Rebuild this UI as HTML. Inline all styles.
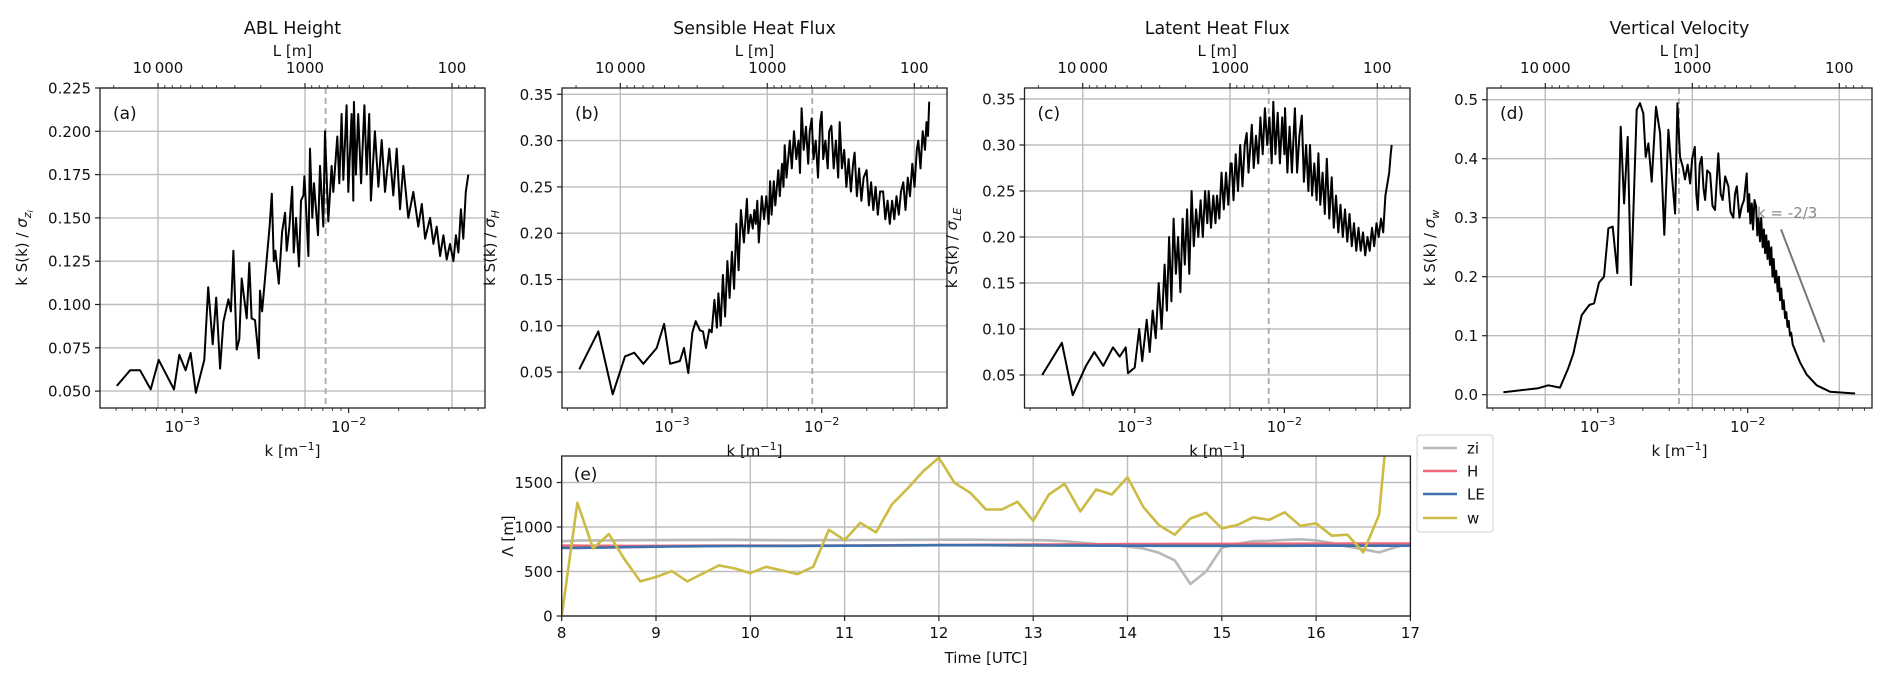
<!DOCTYPE html>
<html><head><meta charset="utf-8"><title>Spectra</title>
<style>
html,body{margin:0;padding:0;background:#fff;}
svg{display:block;font-family:"DejaVu Sans","Liberation Sans",sans-serif;}
</style></head>
<body>
<svg id="chart" xmlns="http://www.w3.org/2000/svg" width="1892" height="683" viewBox="0 0 1892 683"></svg>
<script>
// ---------- DATA ----------
const aData=[[-3.394,.053],[-3.314,.062],[-3.254,.062],[-3.19,.051],[-3.142,.068],[-3.05,.051],[-3.018,.071],[-2.98,.062],[-2.95,.072],[-2.918,.049],[-2.868,.068],[-2.844,.110],[-2.817,.077],[-2.796,.104],[-2.773,.063],[-2.753,.090],[-2.723,.103],[-2.708,.096],[-2.693,.131],[-2.673,.074],[-2.657,.080],[-2.643,.115],[-2.613,.092],[-2.597,.124],[-2.583,.092],[-2.563,.091],[-2.54,.069],[-2.533,.108],[-2.52,.096],[-2.475,.145],[-2.462,.164],[-2.45,.125],[-2.44,.131],[-2.42,.112],[-2.40,.142],[-2.382,.153],[-2.372,.131],[-2.356,.145],[-2.339,.168],[-2.33,.130],[-2.316,.150],[-2.298,.122],[-2.286,.160],[-2.272,.163],[-2.266,.174],[-2.258,.160],[-2.242,.128],[-2.232,.190],[-2.218,.150],[-2.208,.170],[-2.184,.140],[-2.172,.180],[-2.152,.145],[-2.142,.200],[-2.122,.148],[-2.102,.180],[-2.092,.165],[-2.068,.197],[-2.056,.170],[-2.042,.210],[-2.032,.172],[-2.012,.215],[-2.002,.165],[-1.982,.210],[-1.972,.160],[-1.968,.217],[-1.956,.175],[-1.942,.210],[-1.925,.170],[-1.905,.215],[-1.891,.175],[-1.876,.210],[-1.866,.160],[-1.842,.200],[-1.821,.168],[-1.801,.195],[-1.781,.165],[-1.755,.190],[-1.731,.163],[-1.711,.190],[-1.691,.155],[-1.671,.180],[-1.641,.150],[-1.611,.165],[-1.581,.145],[-1.56,.158],[-1.54,.138],[-1.51,.150],[-1.49,.135],[-1.47,.145],[-1.45,.128],[-1.43,.140],[-1.41,.126],[-1.39,.135],[-1.37,.125],[-1.355,.140],[-1.34,.130],[-1.325,.155],[-1.31,.138],[-1.295,.165],[-1.28,.175]];
const bData=[[-3.619,.053],[-3.492,.094],[-3.396,.026],[-3.314,.067],[-3.252,.071],[-3.192,.059],[-3.102,.076],[-3.053,.102],[-3.013,.059],[-2.947,.062],[-2.92,.076],[-2.891,.049],[-2.864,.093],[-2.842,.105],[-2.813,.095],[-2.793,.094],[-2.773,.076],[-2.751,.096],[-2.735,.093],[-2.717,.128],[-2.70,.098],[-2.69,.135],[-2.675,.10],[-2.66,.155],[-2.645,.11],[-2.63,.17],[-2.615,.13],[-2.60,.18],[-2.585,.14],[-2.57,.21],[-2.555,.16],[-2.54,.225],[-2.52,.19],[-2.50,.237],[-2.49,.20],[-2.475,.22],[-2.46,.205],[-2.45,.225],[-2.44,.21],[-2.43,.235],[-2.42,.19],[-2.40,.24],[-2.385,.215],[-2.37,.24],[-2.355,.21],[-2.345,.256],[-2.335,.22],[-2.32,.256],[-2.31,.23],[-2.29,.268],[-2.28,.24],[-2.265,.275],[-2.255,.25],[-2.247,.295],[-2.235,.26],[-2.213,.30],[-2.2,.27],[-2.185,.31],[-2.17,.28],[-2.155,.30],[-2.145,.265],[-2.134,.335],[-2.12,.29],[-2.105,.315],[-2.09,.275],[-2.08,.31],[-2.067,.324],[-2.055,.28],[-2.04,.30],[-2.025,.26],[-2.01,.32],[-2.0,.331],[-1.99,.28],[-1.975,.30],[-1.96,.27],[-1.95,.31],[-1.935,.316],[-1.92,.27],[-1.905,.30],[-1.89,.26],[-1.88,.32],[-1.865,.27],[-1.85,.29],[-1.835,.25],[-1.82,.28],[-1.805,.245],[-1.79,.275],[-1.78,.287],[-1.765,.24],[-1.75,.27],[-1.735,.235],[-1.72,.26],[-1.70,.268],[-1.685,.23],[-1.67,.255],[-1.655,.225],[-1.64,.25],[-1.625,.22],[-1.61,.245],[-1.59,.245],[-1.575,.215],[-1.56,.235],[-1.545,.21],[-1.53,.235],[-1.515,.215],[-1.50,.24],[-1.485,.22],[-1.47,.245],[-1.455,.255],[-1.44,.225],[-1.425,.26],[-1.41,.24],[-1.395,.275],[-1.38,.25],[-1.365,.29],[-1.355,.30],[-1.34,.27],[-1.325,.31],[-1.31,.29],[-1.30,.32],[-1.29,.305],[-1.282,.342]];
const cData=[[-3.618,.05],[-3.486,.085],[-3.414,.028],[-3.325,.06],[-3.27,.075],[-3.21,.06],[-3.145,.08],[-3.10,.07],[-3.06,.08],[-3.045,.052],[-3.0,.058],[-2.97,.10],[-2.95,.065],[-2.92,.11],[-2.90,.075],[-2.88,.12],[-2.86,.09],[-2.84,.15],[-2.82,.10],[-2.80,.17],[-2.785,.12],[-2.77,.20],[-2.755,.13],[-2.74,.22],[-2.725,.16],[-2.71,.20],[-2.695,.14],[-2.68,.22],[-2.665,.17],[-2.65,.23],[-2.635,.16],[-2.62,.25],[-2.605,.19],[-2.59,.23],[-2.575,.20],[-2.56,.24],[-2.545,.20],[-2.53,.25],[-2.515,.215],[-2.506,.25],[-2.49,.21],[-2.475,.245],[-2.46,.215],[-2.45,.245],[-2.435,.22],[-2.42,.27],[-2.405,.23],[-2.39,.27],[-2.375,.235],[-2.36,.28],[-2.352,.28],[-2.34,.24],[-2.325,.29],[-2.31,.25],[-2.295,.30],[-2.28,.255],[-2.265,.30],[-2.252,.313],[-2.24,.27],[-2.218,.322],[-2.205,.275],[-2.19,.31],[-2.175,.28],[-2.16,.33],[-2.145,.29],[-2.13,.34],[-2.115,.30],[-2.10,.33],[-2.085,.28],[-2.074,.347],[-2.06,.29],[-2.045,.335],[-2.03,.28],[-2.015,.33],[-2.0,.29],[-1.996,.34],[-1.98,.27],[-1.965,.32],[-1.95,.27],[-1.93,.34],[-1.915,.27],[-1.9,.31],[-1.884,.332],[-1.87,.26],[-1.855,.30],[-1.84,.25],[-1.829,.30],[-1.815,.245],[-1.8,.28],[-1.785,.24],[-1.773,.291],[-1.76,.235],[-1.745,.27],[-1.73,.225],[-1.717,.285],[-1.70,.22],[-1.684,.265],[-1.67,.21],[-1.655,.245],[-1.64,.205],[-1.625,.235],[-1.61,.20],[-1.595,.23],[-1.58,.195],[-1.565,.225],[-1.55,.19],[-1.535,.215],[-1.52,.185],[-1.505,.21],[-1.49,.185],[-1.475,.205],[-1.46,.18],[-1.445,.20],[-1.43,.185],[-1.415,.21],[-1.40,.19],[-1.385,.215],[-1.37,.20],[-1.355,.22],[-1.34,.205],[-1.325,.245],[-1.31,.26],[-1.30,.27],[-1.29,.29],[-1.283,.30]];
const dData=[[-3.629,.004],[-3.396,.011],[-3.329,.016],[-3.251,.012],[-3.196,.045],[-3.162,.070],[-3.107,.135],[-3.056,.152],[-3.024,.155],[-2.991,.190],[-2.958,.200],[-2.929,.282],[-2.90,.285],[-2.869,.206],[-2.847,.454],[-2.824,.324],[-2.80,.437],[-2.778,.186],[-2.74,.483],[-2.718,.494],[-2.696,.477],[-2.68,.403],[-2.662,.426],[-2.64,.361],[-2.611,.488],[-2.584,.443],[-2.556,.271],[-2.529,.449],[-2.507,.375],[-2.484,.307],[-2.469,.494],[-2.451,.403],[-2.433,.386],[-2.418,.365],[-2.40,.39],[-2.384,.358],[-2.37,.40],[-2.353,.420],[-2.343,.34],[-2.333,.313],[-2.32,.39],[-2.307,.403],[-2.295,.35],[-2.284,.33],[-2.27,.38],[-2.251,.375],[-2.235,.32],[-2.218,.313],[-2.205,.37],[-2.196,.409],[-2.18,.34],[-2.167,.33],[-2.15,.37],[-2.129,.353],[-2.115,.31],[-2.096,.30],[-2.085,.34],[-2.073,.353],[-2.055,.30],[-2.04,.319],[-2.025,.33],[-2.007,.375],[-1.998,.31],[-1.99,.34],[-1.982,.29],[-1.973,.324],[-1.965,.28],[-1.955,.33],[-1.944,.319],[-1.936,.27],[-1.928,.30],[-1.918,.26],[-1.91,.30],[-1.90,.25],[-1.892,.28],[-1.884,.24],[-1.876,.27],[-1.868,.23],[-1.86,.26],[-1.851,.22],[-1.843,.25],[-1.835,.20],[-1.827,.23],[-1.818,.19],[-1.81,.21],[-1.80,.175],[-1.792,.20],[-1.784,.16],[-1.776,.18],[-1.768,.145],[-1.76,.16],[-1.751,.13],[-1.743,.14],[-1.735,.115],[-1.727,.125],[-1.718,.10],[-1.71,.105],[-1.70,.085],[-1.684,.075],[-1.651,.055],[-1.607,.034],[-1.54,.016],[-1.451,.005],[-1.284,.002]];

const aYTicks=[0.05,0.075,0.1,0.125,0.15,0.175,0.2,0.225];
const bYTicks=[0.05,0.1,0.15,0.2,0.25,0.3,0.35];
const cYTicks=[0.05,0.1,0.15,0.2,0.25,0.3,0.35];
const dYTicks=[0,0.1,0.2,0.3,0.4,0.5];
const topMajorL=[10000,1000,100];
const topMajorLabels=["10\u2009000","1000","100"];
const dashLogK=[-2.138,-2.063,-2.105,-2.458];

const eTime=[8,8.167,8.333,8.5,8.667,8.833,9,9.167,9.333,9.5,9.667,9.833,10,10.167,10.333,10.5,10.667,10.833,11,11.167,11.333,11.5,11.667,11.833,12,12.167,12.333,12.5,12.667,12.833,13,13.167,13.333,13.5,13.667,13.833,14,14.167,14.333,14.5,14.667,14.833,15,15.167,15.333,15.5,15.667,15.833,16,16.167,16.333,16.5,16.667,16.833,17];
const eZi=[840,848,850,850,852,852,853,853,855,855,856,856,855,853,852,852,852,853,853,854,855,855,856,856,857,857,857,856,855,855,853,850,840,825,810,800,780,760,710,625,360,500,765,810,840,845,855,862,850,820,780,750,715,770,817];
const eH=[790,790,789,789,788,788,788,789,789,790,790,790,790,790,790,790,791,791,792,792,793,794,795,796,797,798,799,800,800,801,802,803,804,805,806,807,808,809,809,810,810,810,810,811,811,811,812,812,812,812,813,813,814,814,815];
const eLE=[765,765,767,770,773,776,779,781,783,784,785,786,787,787,788,788,789,789,790,790,791,792,793,794,795,795,795,795,794,793,792,792,791,791,790,790,790,790,789,789,789,789,789,789,789,789,789,790,790,790,790,790,790,790,790];
const eW=[0,1272,759,920,636,389,438,505,389,479,568,535,482,553,512,471,553,969,853,1047,939,1253,1432,1627,1777,1496,1384,1197,1197,1283,1070,1365,1485,1174,1421,1365,1560,1227,1021,913,1096,1159,985,1023,1109,1080,1165,1012,1042,902,913,715,1135,3000];
const eXTicks=[8,9,10,11,12,13,14,15,16,17];
const eYTicks=[0,500,1000,1500];
const legendNames=["zi","H","LE","w"];

// ---------- HELPERS ----------
const NS="http://www.w3.org/2000/svg";
const svg=document.getElementById("chart");
function mk(tag,parent){const e=document.createElementNS(NS,tag);parent.appendChild(e);return e;}
function at(e,o){for(const k in o)e.setAttribute(k,o[k]);return e;}
function txt(parent,x,y,s,size,anchor,fill){const t=mk("text",parent);at(t,{x:x,y:y,"font-size":size,"text-anchor":anchor||"middle",fill:fill||"#111"});t.textContent=s;return t;}
const GRID="#bdbdbd";

const panels=[
 {key:"a",title:"ABL Height",L:100,R:485,T:88,B:408,kx0:182.3,kdec:166.3,vtop:0.225,vy0:88,vstep:0.025,vpx:43.3,Lx:305,Ldec:147,ticks:aYTicks,dec:3,data:aData,ylx:27,sub:"zi"},
 {key:"b",title:"Sensible Heat Flux",L:562,R:947,T:88,B:408,kx0:672,kdec:149.7,vtop:0.35,vy0:94.3,vstep:0.05,vpx:46.3,Lx:767.3,Ldec:147,ticks:bYTicks,dec:2,data:bData,ylx:495,sub:"H"},
 {key:"c",title:"Latent Heat Flux",L:1024.5,R:1410,T:88,B:408,kx0:1134.7,kdec:149.7,vtop:0.35,vy0:99,vstep:0.05,vpx:46,Lx:1230,Ldec:147.3,ticks:cYTicks,dec:2,data:cData,ylx:957,sub:"LE"},
 {key:"d",title:"Vertical Velocity",L:1487,R:1872,T:88,B:408,kx0:1597.7,kdec:150,vtop:0.5,vy0:99.7,vstep:0.1,vpx:59,Lx:1692.3,Ldec:147,ticks:dYTicks,dec:1,data:dData,ylx:1435,sub:"w"}
];

panels.forEach((p,pi)=>{
 const g=mk("g",svg);
 
 
 const xk=lk=>p.kx0+(lk+3)*p.kdec;
 const yv=v=>p.vy0+(p.vtop-v)/p.vstep*p.vpx;
 const xL=L=>p.Lx+(3-Math.log10(L))*p.Ldec;
 const lkMin=-3+(p.L-p.kx0)/p.kdec, lkMax=-3+(p.R-p.kx0)/p.kdec;
 const cp=mk("clipPath",g);cp.setAttribute("id","clip"+p.key);
 at(mk("rect",cp),{x:p.L,y:p.T,width:p.R-p.L,height:p.B-p.T});
 p.ticks.forEach(v=>{
  const y=yv(v);
  const gl=mk("line",g);at(gl,{x1:p.L,x2:p.R,y1:y,y2:y,stroke:GRID,"stroke-width":1.4});
  
  
  at(mk("line",g),{x1:p.L-5,x2:p.L,y1:y,y2:y,stroke:"#222","stroke-width":1.2});
  const t=txt(g,p.L-9,y+5.5,v.toFixed(p.dec),15,"end");
  
  
 });
 topMajorL.forEach((L,i)=>{
  const x=xL(L);
  const gl=mk("line",g);at(gl,{x1:x,x2:x,y1:p.T,y2:p.B,stroke:GRID,"stroke-width":1.4});
  
  
  at(mk("line",g),{x1:x,x2:x,y1:p.T,y2:p.T-5,stroke:"#222","stroke-width":1.2});
  const t=txt(g,x,73,topMajorLabels[i],15,"middle");
  
  
 });
 for(let dd=1;dd<=5;dd++)for(let m=2;m<=9;m++){
  const x=xL(m*Math.pow(10,dd));
  if(x>p.L+1&&x<p.R-1) at(mk("line",g),{x1:x,x2:x,y1:p.T,y2:p.T-2.8,stroke:"#222","stroke-width":0.9});
 }
 for(let dd=-5;dd<=0;dd++)for(let m=1;m<=9;m++){
  const lk=dd+Math.log10(m);
  if(lk<lkMin||lk>lkMax)continue;
  const x=xk(lk);
  if(m===1){
   at(mk("line",g),{x1:x,x2:x,y1:p.B,y2:p.B+5,stroke:"#222","stroke-width":1.2});
   const t=mk("text",g);at(t,{x:x,y:432,"font-size":15,"text-anchor":"middle",fill:"#111"});
   
   
   const t1=mk("tspan",t);t1.textContent="10";
   const t2=mk("tspan",t);at(t2,{dy:-7,"font-size":11});t2.textContent="\u2212"+(-dd);
  } else at(mk("line",g),{x1:x,x2:x,y1:p.B,y2:p.B+2.8,stroke:"#222","stroke-width":0.9});
 }
 const dx=xk(dashLogK[pi]);
 const dl=mk("line",g);at(dl,{x1:dx,x2:dx,y1:p.T,y2:p.B,stroke:"#aaaaaa","stroke-width":1.8,"stroke-dasharray":"6,4"});
 
 
 const path=mk("path",g);
 path.setAttribute("d",p.data.map((d,i)=>(i?"L":"M")+xk(d[0]).toFixed(1)+","+yv(d[1]).toFixed(1)).join(""));
 at(path,{fill:"none",stroke:"#000","stroke-width":2,"stroke-linejoin":"round","clip-path":"url(#clip"+p.key+")"});
 
 
 const fr=mk("rect",g);at(fr,{x:p.L,y:p.T,width:p.R-p.L,height:p.B-p.T,fill:"none",stroke:"#222","stroke-width":1.3});
 
 
 const cx=(p.L+p.R)/2;
 const tt=txt(g,cx,34,p.title,17.5,"middle");
 
 
 const tl=txt(g,cx,56,"L [m]",15,"middle");
 
 
 const xl=mk("text",g);at(xl,{x:cx,y:456,"font-size":15,"text-anchor":"middle",fill:"#111"});
 
 
 const x1=mk("tspan",xl);x1.textContent="k [m";
 const x2=mk("tspan",xl);at(x2,{dy:-6,"font-size":11});x2.textContent="\u22121";
 const x3=mk("tspan",xl);at(x3,{dy:6});x3.textContent="]";
 const pl=txt(g,p.L+13,p.T+31,"("+p.key+")",17,"start");
 
 
 const yl=mk("text",g);
 const ycy=(p.T+p.B)/2;
 at(yl,{x:p.ylx,y:ycy,"font-size":15,"text-anchor":"middle",fill:"#111",transform:"rotate(-90 "+p.ylx+" "+ycy+")"});
 
 
 const y1=mk("tspan",yl);y1.textContent="k S(k) / ";
 const y2=mk("tspan",yl);at(y2,{"font-style":"italic"});y2.textContent="\u03c3";
 if(p.sub==="zi"){
  const y3=mk("tspan",yl);at(y3,{"font-style":"italic","font-size":11,dy:4});y3.textContent="z";
  const y4=mk("tspan",yl);at(y4,{"font-style":"italic","font-size":8,dy:2});y4.textContent="i";
 } else {
  const y3=mk("tspan",yl);at(y3,{"font-style":"italic","font-size":11,dy:4});y3.textContent=p.sub;
 }
 if(p.key==="d"){
  const sl=mk("line",g);at(sl,{x1:1781,y1:229.3,x2:1824.3,y2:342.3,stroke:"#777","stroke-width":2});
  
  
  const st=txt(g,1757,218,"k = -2/3",15,"start","#888");
  
  
 }
});

// ---------- PANEL E ----------
(function(){
 const E={L:561.7,R:1410.4,T:456,B:616};
 const g=mk("g",svg);
 
 
 const xt=t=>E.L+(t-8)*94.3;
 const yv=v=>E.B-v/500*44.5;
 const cp=mk("clipPath",g);cp.setAttribute("id","clipe");
 at(mk("rect",cp),{x:E.L,y:E.T,width:E.R-E.L,height:E.B-E.T});
 eYTicks.forEach(v=>{
  const y=yv(v);
  const gl=mk("line",g);at(gl,{x1:E.L,x2:E.R,y1:y,y2:y,stroke:GRID,"stroke-width":1.4});
  
  
  at(mk("line",g),{x1:E.L-5,x2:E.L,y1:y,y2:y,stroke:"#222","stroke-width":1.2});
  const t=txt(g,E.L-9,y+5.5,String(v),15,"end");
  
  
 });
 eXTicks.forEach(v=>{
  const x=xt(v);
  const gl=mk("line",g);at(gl,{x1:x,x2:x,y1:E.T,y2:E.B,stroke:GRID,"stroke-width":1.4});
  
  
  at(mk("line",g),{x1:x,x2:x,y1:E.B,y2:E.B+5,stroke:"#222","stroke-width":1.2});
  const t=txt(g,x,638,String(v),15,"middle");
  
  
 });
 const series=[[eZi,"#b8b8b8","line-zi"],[eH,"#ee6677","line-h"],[eLE,"#3f72ad","line-le"],[eW,"#ccbb44","line-w"]];
 series.forEach(s=>{
  const vals=s[0];
  const n=Math.min(vals.length,eTime.length);
  const pts=[];for(let i=0;i<n;i++)pts.push((i?"L":"M")+xt(eTime[i]).toFixed(1)+","+yv(vals[i]).toFixed(1));
  const p=mk("path",g);at(p,{d:pts.join(""),fill:"none",stroke:s[1],"stroke-width":2.6,"stroke-linejoin":"round","clip-path":"url(#clipe)"});
  
  
 });
 const fr=mk("rect",g);at(fr,{x:E.L,y:E.T,width:E.R-E.L,height:E.B-E.T,fill:"none",stroke:"#222","stroke-width":1.3});
 
 
 const pl=txt(g,E.L+12,E.T+24,"(e)",17,"start");
 
 
 const xl=txt(g,(E.L+E.R)/2,663,"Time [UTC]",15,"middle");
 
 
 const yl=txt(g,513,536,"\u039b [m]",15,"middle");
 at(yl,{transform:"rotate(-90 513 536)"});
 
 
 const lg=mk("g",svg);
 
 
 at(mk("rect",lg),{x:1417,y:435,width:76,height:97,rx:3,fill:"#fff","fill-opacity":0.85,stroke:"#d0d0d0","stroke-width":1});
 const ly=[448,471,494,518];
 legendNames.forEach((nm,i)=>{
  const eg=mk("g",lg);
  
  
  at(mk("line",eg),{x1:1423,x2:1457,y1:ly[i],y2:ly[i],stroke:series[i][1],"stroke-width":2.6});
  txt(eg,1467,ly[i]+5.5,nm,15,"start");
 });
})();
</script>
</body></html>
